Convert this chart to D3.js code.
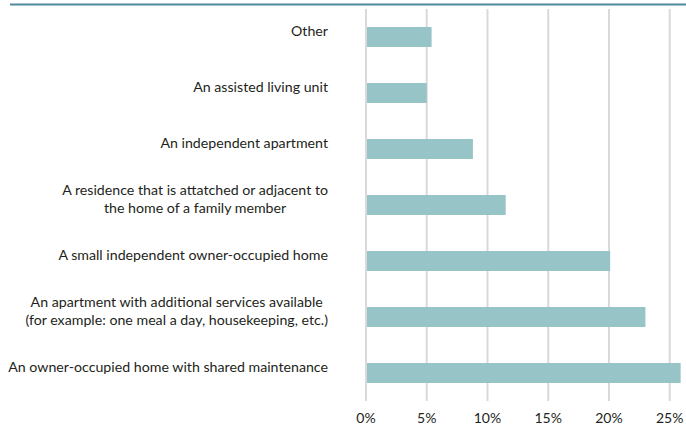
<!DOCTYPE html>
<html>
<head>
<meta charset="utf-8">
<script src="https://cdn.jsdelivr.net/npm/d3@7"></script>
<style>
  body { margin: 0; background: #fff; }
  text { font-family: Lato, "Open Sans", sans-serif; fill: #231f20; }
</style>
</head>
<body>
<div id="chart"></div>
<script>
// data
var categories = [
    ["Other"],
    ["An assisted living unit"],
    ["An independent apartment"],
    ["A residence that is attatched or adjacent to", "the home of a family member"],
    ["A small independent owner-occupied home"],
    ["An apartment with additional services available", "(for example: one meal a day, housekeeping, etc.)"],
    ["An owner-occupied home with shared maintenance"]
];
var values = [5.4, 5.0, 8.8, 11.5, 20.1, 23.0, 25.9];
var ticks = [0, 5, 10, 15, 20, 25];

var width = 686, height = 428;
var left = 366, right = 669.7;
var labelRight = 328;

var svg = d3.select("#chart").append("svg")
    .attr("width", width)
    .attr("height", height);

// top rule
svg.append("line")
    .attr("x1", 10).attr("x2", width)
    .attr("y1", 4.5).attr("y2", 4.5)
    .attr("stroke", "#4d8a9b")
    .attr("stroke-width", 2);

var xScale = d3.scaleLinear()
    .domain([0, 25])
    .range([left, right]);
var yScale = d3.scaleBand()
    .domain(d3.range(categories.length))
    .range([9, 401])
    .paddingInner(0.643)
    .paddingOuter(0.3215);

// gridlines
svg.append("g").selectAll("line")
    .data(ticks)
    .enter()
    .append("line")
    .attr("x1", function (d) { return xScale(d); })
    .attr("x2", function (d) { return xScale(d); })
    .attr("y1", 9)
    .attr("y2", 401)
    .attr("stroke", "#d9d9d9")
    .attr("stroke-width", 2);

// bars
svg.append("g").selectAll("rect")
    .data(values)
    .enter()
    .append("rect")
    .attr("x", xScale(0) + 1)
    .attr("y", function (d, i) { return yScale(i); })
    .attr("width", function (d) { return xScale(d) - xScale(0) - 1; })
    .attr("height", yScale.bandwidth())
    .attr("fill", "#97c4c6");

// category labels: block sits right, lines are centred within it
var labels = svg.append("g").selectAll("text")
    .data(categories)
    .enter()
    .append("text")
    .attr("text-anchor", "middle")
    .attr("font-size", "14.2px")
    .attr("transform", function (d, i) {
        var cy = yScale(i) + yScale.bandwidth() / 2 - 6;
        return "translate(0," + cy + ")";
    });
labels.selectAll("tspan")
    .data(function (d) { return d.map(function (t, j) { return { t: t, j: j, n: d.length }; }); })
    .enter()
    .append("tspan")
    .attr("y", function (d) { return (d.j - (d.n - 1) / 2) * 18; })
    .attr("dy", "0.35em")
    .text(function (d) { return d.t; });
labels.each(function () {
    var spans = d3.select(this).selectAll("tspan");
    var w = d3.max(spans.nodes(), function (n) { return n.getComputedTextLength(); });
    spans.attr("x", labelRight - w / 2);
});

// x axis tick labels
svg.append("g").selectAll("text")
    .data(ticks)
    .enter()
    .append("text")
    .attr("x", function (d) { return xScale(d); })
    .attr("y", 418)
    .attr("dy", "0.35em")
    .attr("text-anchor", "middle")
    .attr("font-size", "14px")
    .text(function (d) { return d + "%"; });
</script>
</body>
</html>
